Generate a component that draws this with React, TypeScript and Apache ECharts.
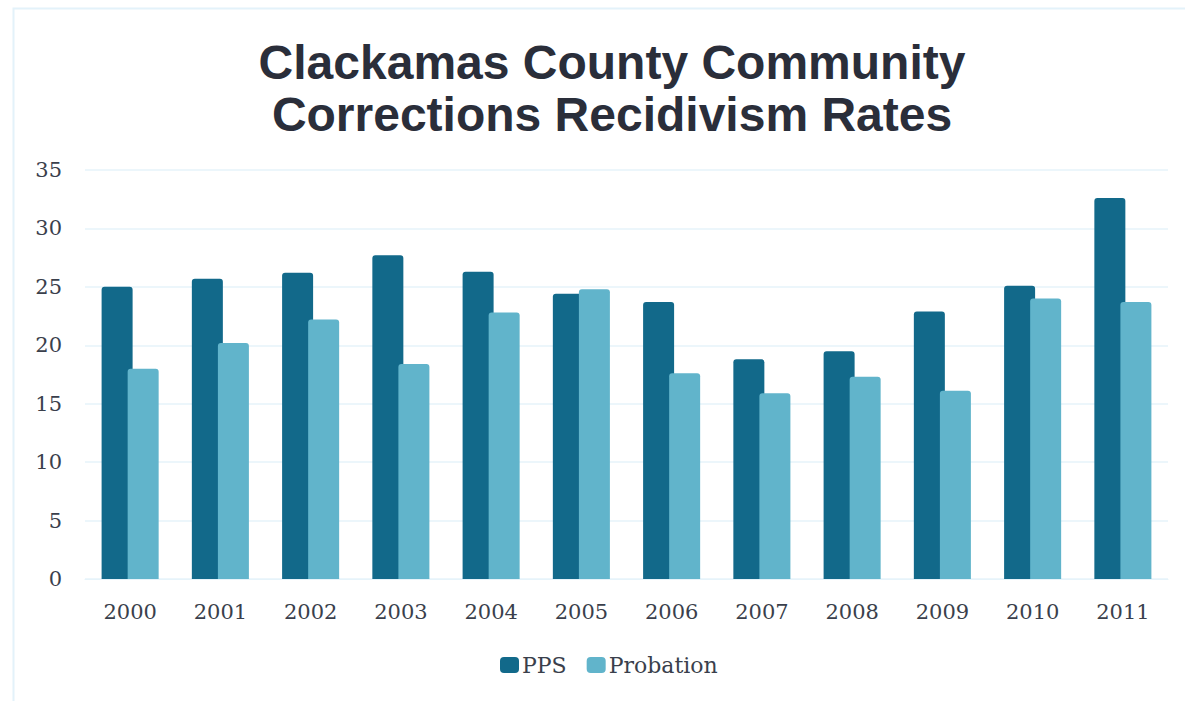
import React, { useEffect, useRef } from "react";
import * as echarts from "echarts";

const categories = ["2000", "2001", "2002", "2003", "2004", "2005", "2006", "2007", "2008", "2009", "2010", "2011"];
const ppsValues = [25.0, 25.7, 26.2, 27.7, 26.3, 24.4, 23.7, 18.8, 19.5, 22.9, 25.1, 32.6];
const probationValues = [18.0, 20.2, 22.2, 18.4, 22.8, 24.8, 17.6, 15.9, 17.3, 16.1, 24.0, 23.7];
const yTicks = { min: 0, max: 35, interval: 5 };

const DARK = "#12698a";
const LIGHT = "#61b4cb";
const SERIF = "'DejaVu Serif', Georgia, serif";

export default function App() {
  const ref = useRef<HTMLDivElement>(null);
  useEffect(() => {
    document.body.style.margin = "0";
    const chart = echarts.init(ref.current!, null, { renderer: "svg" });
    chart.setOption({
      animation: false,
      backgroundColor: "#ffffff",
      graphic: [
        {
          type: "rect",
          shape: { x: 13.5, y: 8.5, width: 1200, height: 720 },
          style: { fill: "none", stroke: "#e3f2fa", lineWidth: 2 },
          silent: true,
        },
      ],
      title: {
        text: "Clackamas County Community\nCorrections Recidivism Rates",
        left: 607,
        textAlign: "center",
        top: 31,
        textStyle: {
          fontFamily: "'Liberation Sans', Arial, sans-serif",
          fontWeight: "bold",
          fontSize: 48,
          lineHeight: 52,
          color: "#2a2e3a",
        },
      },
      legend: {
        left: 495,
        top: 649,
        itemWidth: 19,
        itemHeight: 16,
        itemGap: 20,
        icon: "roundRect",
        textStyle: { fontFamily: SERIF, fontSize: 22, color: "#3a3f4c", padding: [0, 0, 0, -2] },
        data: ["PPS", "Probation"],
      },
      grid: { left: 85, right: 17, top: 170, bottom: 122 },
      xAxis: {
        type: "category",
        data: categories,
        axisLine: { show: true, lineStyle: { color: "#e6f3fa" } },
        axisTick: { show: false },
        axisLabel: { margin: 22, fontFamily: SERIF, fontSize: 21, color: "#3a3f4c" },
      },
      yAxis: {
        type: "value",
        min: yTicks.min,
        max: yTicks.max,
        interval: yTicks.interval,
        axisLine: { show: false },
        axisTick: { show: false },
        splitLine: { lineStyle: { color: "#e6f3fa", width: 1.5 } },
        axisLabel: { margin: 23, fontFamily: SERIF, fontSize: 21, color: "#3a3f4c" },
      },
      series: [
        {
          name: "PPS",
          type: "bar",
          data: ppsValues,
          barWidth: 31,
          barGap: "-16%",
          itemStyle: { color: DARK, borderRadius: [3, 3, 0, 0] },
        },
        {
          name: "Probation",
          type: "bar",
          data: probationValues,
          barWidth: 31,
          barGap: "-16%",
          itemStyle: { color: LIGHT, borderRadius: [3, 3, 0, 0] },
        },
      ],
    });
    return () => chart.dispose();
  }, []);
  return <div ref={ref} style={{ width: 1185, height: 701 }} />;
}
